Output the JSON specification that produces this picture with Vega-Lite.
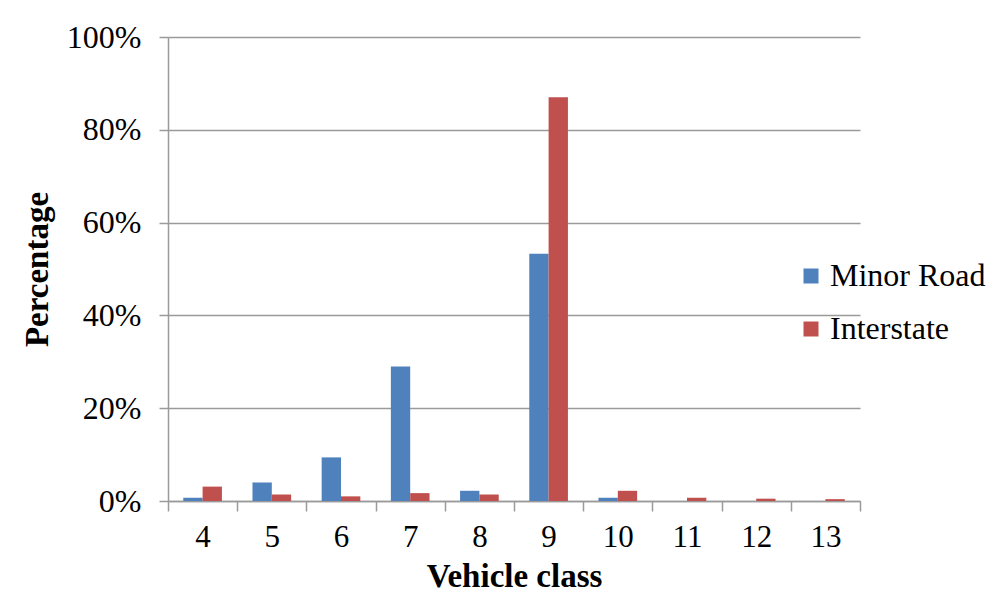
{
  "$schema": "https://vega.github.io/schema/vega-lite/v6.json",
  "width": 692,
  "height": 464,
  "autosize": {"type": "none"},
  "padding": {"left": 168, "top": 37, "right": 145, "bottom": 96},
  "background": "white",
  "config": {
    "view": {"stroke": null},
    "font": "Liberation Serif"
  },
  "data": {
    "values": [
      {"class": "4", "road": "Minor Road", "share": 0.007},
      {"class": "4", "road": "Interstate", "share": 0.031},
      {"class": "5", "road": "Minor Road", "share": 0.040},
      {"class": "5", "road": "Interstate", "share": 0.014},
      {"class": "6", "road": "Minor Road", "share": 0.094},
      {"class": "6", "road": "Interstate", "share": 0.010},
      {"class": "7", "road": "Minor Road", "share": 0.290},
      {"class": "7", "road": "Interstate", "share": 0.017},
      {"class": "8", "road": "Minor Road", "share": 0.022},
      {"class": "8", "road": "Interstate", "share": 0.014},
      {"class": "9", "road": "Minor Road", "share": 0.533},
      {"class": "9", "road": "Interstate", "share": 0.870},
      {"class": "10", "road": "Minor Road", "share": 0.007},
      {"class": "10", "road": "Interstate", "share": 0.022},
      {"class": "11", "road": "Minor Road", "share": 0.0},
      {"class": "11", "road": "Interstate", "share": 0.007},
      {"class": "12", "road": "Minor Road", "share": 0.0},
      {"class": "12", "road": "Interstate", "share": 0.005},
      {"class": "13", "road": "Minor Road", "share": 0.0},
      {"class": "13", "road": "Interstate", "share": 0.004}
    ]
  },
  "mark": {"type": "bar"},
  "encoding": {
    "x": {
      "field": "class",
      "type": "ordinal",
      "sort": ["4", "5", "6", "7", "8", "9", "10", "11", "12", "13"],
      "scale": {"paddingInner": 0, "paddingOuter": 0},
      "axis": {
        "title": "Vehicle class",
        "titleFont": "Liberation Serif",
        "titleFontSize": 33,
        "titleFontWeight": "bold",
        "titleColor": "black",
        "titlePadding": 8,
        "labelAngle": 0,
        "labelFont": "Liberation Serif",
        "labelFontSize": 31,
        "labelColor": "black",
        "labelPadding": 11,
        "tickBand": "extent",
        "tickSize": 10,
        "tickColor": "#9a9a9a",
        "tickWidth": 1.5,
        "domainColor": "#9a9a9a",
        "domainWidth": 1.5,
        "grid": false
      }
    },
    "xOffset": {
      "field": "road",
      "type": "nominal",
      "sort": ["Minor Road", "Interstate"],
      "scale": {"paddingInner": 0, "paddingOuter": 0.79}
    },
    "y": {
      "field": "share",
      "type": "quantitative",
      "scale": {"domain": [0, 1], "nice": false},
      "axis": {
        "title": "Percentage",
        "titleFont": "Liberation Serif",
        "titleFontSize": 33,
        "titleFontWeight": "bold",
        "titleColor": "black",
        "titleX": -131,
        "titleY": 232,
        "titleAnchor": "middle",
        "titleBaseline": "middle",
        "format": ".0%",
        "values": [0, 0.2, 0.4, 0.6, 0.8, 1],
        "labelFont": "Liberation Serif",
        "labelFontSize": 32,
        "labelColor": "black",
        "labelPadding": 18,
        "tickSize": 9,
        "tickColor": "#9a9a9a",
        "tickWidth": 1.5,
        "domainColor": "#9a9a9a",
        "domainWidth": 1.5,
        "grid": true,
        "gridColor": "#9a9a9a",
        "gridWidth": 1.5
      }
    },
    "color": {
      "field": "road",
      "type": "nominal",
      "sort": ["Minor Road", "Interstate"],
      "scale": {"domain": ["Minor Road", "Interstate"], "range": ["#4f81bd", "#c0504d"]},
      "legend": {
        "title": null,
        "orient": "none",
        "legendX": 627,
        "legendY": 223,
        "symbolType": "square",
        "symbolSize": 225,
        "symbolStrokeWidth": 0,
        "labelFont": "Liberation Serif",
        "labelFontSize": 32,
        "labelColor": "black",
        "labelOffset": 3,
        "rowPadding": 21
      }
    }
  }
}
